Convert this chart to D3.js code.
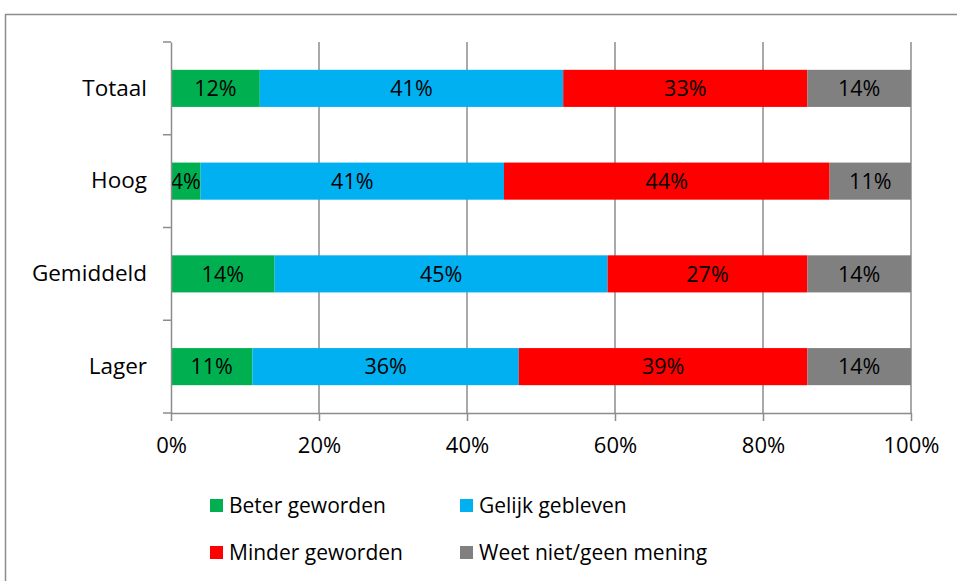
<!DOCTYPE html>
<html>
<head>
<meta charset="utf-8">
<script src="https://cdn.jsdelivr.net/npm/d3@7"></script>
<style>
  body { margin: 0; background: #fff; }
  text { font-family: "Open Sans", sans-serif; fill: #000; }
</style>
</head>
<body>
<div id="chart"></div>
<script>
// categories and values (percent)
const categories = ["Totaal", "Hoog", "Gemiddeld", "Lager"];
const seriesNames = ["Beter geworden", "Gelijk gebleven", "Minder geworden", "Weet niet/geen mening"];
const beter = [12, 4, 14, 11];
const gelijk = [41, 41, 45, 36];
const minder = [33, 44, 27, 39];
const weetNiet = [14, 11, 14, 14];
const xTicks = [0, 20, 40, 60, 80, 100];
const colors = ["#00B050", "#00B0F0", "#FF0000", "#808080"];

const W = 957, H = 581;
const margin = { top: 42, right: 46, bottom: 168, left: 171 };
const width = W - margin.left - margin.right,
      height = H - margin.top - margin.bottom;

const svg = d3.select("#chart").append("svg")
    .attr("width", W).attr("height", H);

// outer frame
svg.append("rect")
   .attr("x", 5.5).attr("y", 14.5)
   .attr("width", 970).attr("height", 620)
   .attr("fill", "none").attr("stroke", "#8c8c8c").attr("stroke-width", 1.5);

const g = svg.append("g").attr("transform", `translate(${margin.left},${margin.top})`);

const table = categories.map((c, i) => ({
    cat: c, values: [beter[i], gelijk[i], minder[i], weetNiet[i]]
}));

const x = d3.scaleLinear().domain([0, 100]).range([0, width]);
const y = d3.scaleBand().domain(categories).range([0, height]).padding(0);
const barH = y.bandwidth() * 0.4;

// vertical gridlines
g.selectAll(".grid").data(xTicks.slice(1)).enter().append("line")
 .attr("x1", d => x(d)).attr("x2", d => x(d))
 .attr("y1", 0).attr("y2", height)
 .attr("stroke", "#8c8c8c").attr("stroke-width", 1.5);

// bars
table.forEach(row => {
    let acc = 0;
    row.values.forEach((v, j) => {
        const x0 = acc;
        acc += v;
        g.append("rect")
         .attr("x", x(x0)).attr("width", x(acc) - x(x0))
         .attr("y", y(row.cat) + (y.bandwidth() - barH) / 2)
         .attr("height", barH)
         .attr("fill", colors[j]);
        g.append("text")
         .attr("x", x(x0 + v / 2))
         .attr("y", y(row.cat) + y.bandwidth() / 2)
         .attr("dy", "0.36em")
         .attr("text-anchor", "middle")
         .attr("font-size", "21.5px")
         .text(v + "%");
    });
});

// y axis
const yAxis = g.append("g")
    .call(d3.axisLeft(y).tickSize(0).tickPadding(24));
yAxis.select(".domain").attr("stroke", "#8c8c8c").attr("stroke-width", 1.5);
yAxis.selectAll("text").attr("font-size", "22.5px").attr("font-family", "Open Sans, sans-serif").attr("fill", "#000");
// category boundary ticks
const bounds = categories.map(c => y(c)).concat([height]);
g.selectAll(".ytick").data(bounds).enter().append("line")
 .attr("x1", -8).attr("x2", 0).attr("y1", d => d).attr("y2", d => d)
 .attr("stroke", "#8c8c8c").attr("stroke-width", 1.5);

// x axis
const xAxis = g.append("g")
    .attr("transform", `translate(0,${height})`)
    .call(d3.axisBottom(x).tickValues(xTicks).tickFormat(d => d + "%").tickSize(8).tickSizeOuter(0).tickPadding(16));
xAxis.select(".domain").attr("stroke", "#8c8c8c").attr("stroke-width", 1.5);
xAxis.selectAll("line").attr("stroke", "#8c8c8c").attr("stroke-width", 1.5);
xAxis.selectAll("text").attr("font-size", "22px").attr("font-family", "Open Sans, sans-serif").attr("fill", "#000");

// legend
const legendPos = [[210, 499], [460, 499], [210, 546], [460, 546]];
seriesNames.forEach((name, i) => {
    const lg = svg.append("g").attr("transform", `translate(${legendPos[i][0]},${legendPos[i][1]})`);
    lg.append("rect").attr("width", 13).attr("height", 13).attr("fill", colors[i]);
    lg.append("text").attr("x", 19).attr("y", 6.5).attr("dy", "0.36em")
      .attr("font-size", "21px").text(name);
});
</script>
</body>
</html>
